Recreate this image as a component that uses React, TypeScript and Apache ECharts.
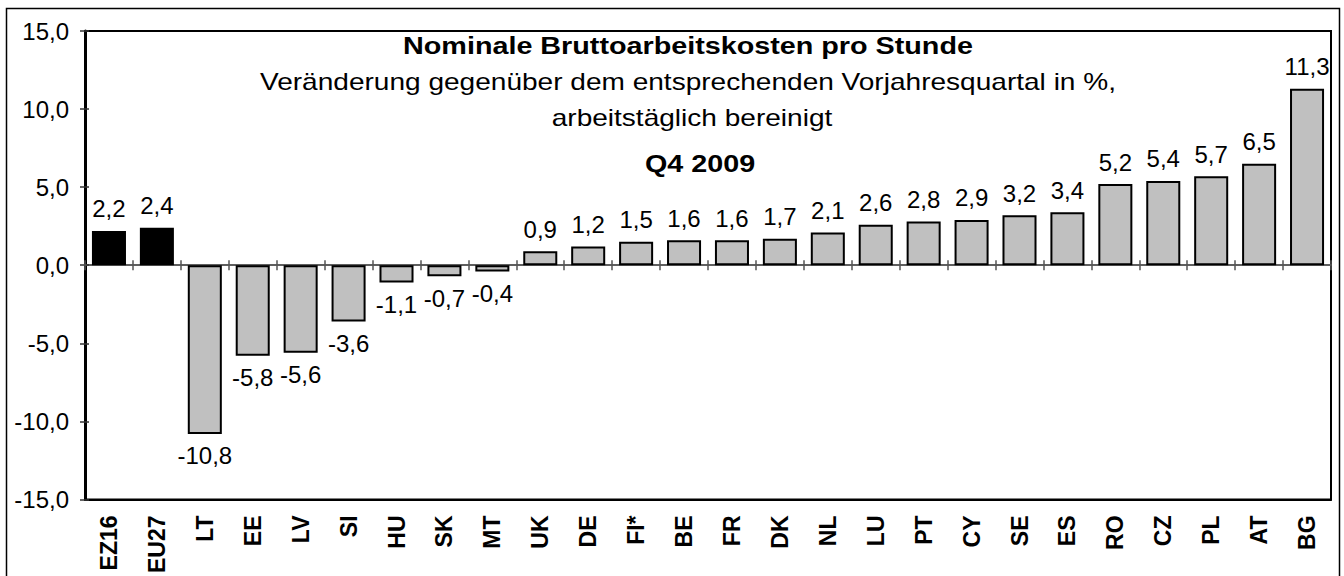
import React, { useEffect, useRef } from "react";
import * as echarts from "echarts";

const categories = ["EZ16", "EU27", "LT", "EE", "LV", "SI", "HU", "SK", "MT", "UK", "DE", "FI*", "BE", "FR", "DK", "NL", "LU", "PT", "CY", "SE", "ES", "RO", "CZ", "PL", "AT", "BG"];
const values = [2.2, 2.4, -10.8, -5.8, -5.6, -3.6, -1.1, -0.7, -0.4, 0.9, 1.2, 1.5, 1.6, 1.6, 1.7, 2.1, 2.6, 2.8, 2.9, 3.2, 3.4, 5.2, 5.4, 5.7, 6.5, 11.3];
const aggregates = ["EZ16", "EU27"];
const yMin = -15;
const yMax = 15;
const yInterval = 5;
const titleMain = "Nominale Bruttoarbeitskosten pro Stunde";
const titleSub1 = "Veränderung gegenüber dem entsprechenden Vorjahresquartal in %,";
const titleSub2 = "arbeitstäglich bereinigt";
const titlePeriod = "Q4 2009";

const FONT = "'Liberation Sans', Arial, sans-serif";
const fmt = (v: number) => v.toFixed(1).replace(".", ",");

export default function App() {
  const ref = useRef<HTMLDivElement>(null);
  useEffect(() => {
    const chart = echarts.init(ref.current!, null, { renderer: "svg" });
    const data = values.map((v, i) => {
      const agg = aggregates.includes(categories[i]);
      return {
        value: v,
        itemStyle: { color: agg ? "#000000" : "#c0c0c0", borderColor: "#000", borderWidth: 2 },
        label: { position: v >= 0 ? "top" : "bottom" },
      };
    });
    const catAxisBase = {
      type: "category",
      data: categories,
      gridIndex: 0,
    };
    chart.setOption({
      animation: false,
      backgroundColor: "#fff",
      textStyle: { fontFamily: FONT },
      grid: {
        left: 85,
        right: 13,
        top: 31,
        bottom: 74,
        show: true,
        borderColor: "#000",
        borderWidth: 2,
        backgroundColor: "transparent",
      },
      xAxis: [
        {
          ...catAxisBase,
          position: "bottom",
          axisLine: { onZero: false, lineStyle: { color: "#000", width: 2 } },
          axisTick: { show: false },
          axisLabel: {
            interval: 0,
            rotate: 90,
            margin: 16,
            fontSize: 23,
            fontWeight: "bold",
            color: "#000",
            fontFamily: FONT,
          },
          splitLine: { show: false },
        },
        {
          ...catAxisBase,
          position: "top",
          axisLine: { onZero: true, lineStyle: { color: "#555", width: 1.5 } },
          axisTick: { show: true, length: 5, inside: false, lineStyle: { color: "#555", width: 1.5 } },
          axisLabel: { show: false },
          splitLine: { show: false },
        },
        {
          ...catAxisBase,
          position: "top",
          axisLine: { onZero: true, lineStyle: { color: "#555", width: 1.5 } },
          axisTick: { show: true, length: 5, inside: true, lineStyle: { color: "#555", width: 1.5 } },
          axisLabel: { show: false },
          splitLine: { show: false },
        },
      ],
      yAxis: [
        {
          type: "value",
          min: yMin,
          max: yMax,
          interval: yInterval,
          position: "left",
          axisLine: { show: true, onZero: false, lineStyle: { color: "#000", width: 3 } },
          axisTick: { show: true, length: 5, inside: false, lineStyle: { color: "#333", width: 1.5 } },
          axisLabel: { formatter: fmt, fontSize: 24, color: "#000", margin: 16, fontFamily: FONT },
          splitLine: { show: false },
        },
        {
          type: "value",
          min: yMin,
          max: yMax,
          interval: yInterval,
          position: "left",
          axisLine: { show: false, onZero: false },
          axisTick: { show: true, length: 4, inside: true, lineStyle: { color: "#333", width: 1.5 } },
          axisLabel: { show: false },
          splitLine: { show: false },
        },
      ],
      series: [
        {
          type: "bar",
          xAxisIndex: 0,
          yAxisIndex: 0,
          data,
          barCategoryGap: "29%",
          label: {
            show: true,
            distance: 10,
            fontSize: 24,
            color: "#000",
            fontFamily: FONT,
            formatter: (p: any) => fmt(p.value),
          },
        },
      ],
      graphic: [
        {
          type: "rect",
          shape: { x: 6.5, y: 8.5, width: 1333, height: 600 },
          style: { fill: "none", stroke: "#000", lineWidth: 1.5 },
          silent: true,
          z: 100,
        },
        {
          type: "text",
          x: 688,
          y: 46,
          scaleX: 1.25,
          style: { text: titleMain, font: `bold 23px ${FONT}`, fill: "#000", textAlign: "center", textVerticalAlign: "middle" },
        },
        {
          type: "text",
          x: 688,
          y: 82,
          scaleX: 1.22,
          style: { text: titleSub1, font: `23px ${FONT}`, fill: "#000", textAlign: "center", textVerticalAlign: "middle" },
        },
        {
          type: "text",
          x: 692,
          y: 118,
          scaleX: 1.22,
          style: { text: titleSub2, font: `23px ${FONT}`, fill: "#000", textAlign: "center", textVerticalAlign: "middle" },
        },
        {
          type: "text",
          x: 700,
          y: 164,
          scaleX: 1.25,
          style: { text: titlePeriod, font: `bold 23px ${FONT}`, fill: "#000", textAlign: "center", textVerticalAlign: "middle" },
        },
      ],
    });
    return () => chart.dispose();
  }, []);
  return (
    <div
      ref={ref}
      style={{ position: "fixed", left: 0, top: 0, width: 1344, height: 576, background: "#fff" }}
    />
  );
}
